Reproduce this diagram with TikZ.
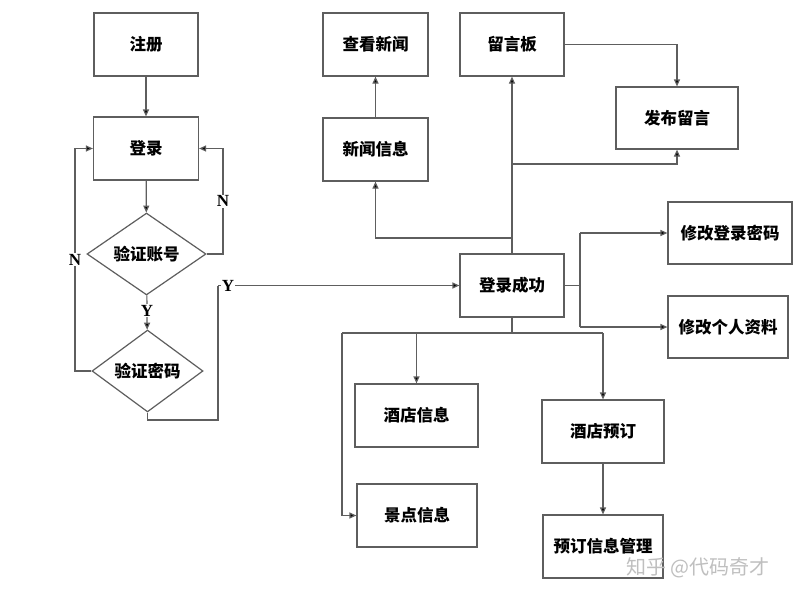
\documentclass[tikz,border=0pt]{standalone}
\usepackage{fontspec}
\newfontfamily\cjk{Noto Sans CJK SC}
\newfontfamily\latf{Liberation Serif}
\usetikzlibrary{shapes.geometric,arrows.meta}
\begin{document}
\begin{tikzpicture}[x=1pt,y=-1pt,
  box/.style={draw=linegray,line width=1.2pt,fill=white,inner sep=0pt,font=\cjk\bfseries\fontsize{16.5}{19}\selectfont},
  dia/.style={diamond,draw=linegray,line width=1.2pt,fill=white,inner sep=0pt,font=\cjk\bfseries\fontsize{16.5}{19}\selectfont},
  conn/.style={draw=linegray,line width=1.2pt},
  arr/.style={conn,-{Triangle[length=7pt,width=6pt,fill=black]}},
  lab/.style={fill=white,inner sep=1pt,font=\latf\bfseries\fontsize{17}{19}\selectfont}]
\definecolor{linegray}{HTML}{5E5E5E}
\useasboundingbox (0,0) rectangle (800,600);
\fill[white] (0,0) rectangle (800,600);
% nodes
\node[box,minimum width=104pt,minimum height=63pt] (zc) at (146,44.5) {注册};
\node[box,minimum width=105pt,minimum height=63pt] (dl) at (146,148.5) {登录};
\node[dia,minimum width=119pt,minimum height=62pt] (yzzh) at (146.5,254) {验证账号};
\node[dia,minimum width=111pt,minimum height=66pt] (yzmm) at (147.5,371) {验证密码};
\node[box,minimum width=105pt,minimum height=63pt] (cxxw) at (375.5,44.5) {查看新闻};
\node[box,minimum width=104pt,minimum height=63pt] (lyb) at (512,44.5) {留言板};
\node[box,minimum width=122pt,minimum height=62pt] (fbly) at (677,118) {发布留言};
\node[box,minimum width=105pt,minimum height=63pt] (xwxx) at (375.5,149.5) {新闻信息};
\node[box,minimum width=104pt,minimum height=63pt] (dlcg) at (512,285.5) {登录成功};
\node[box,minimum width=124pt,minimum height=62pt] (xgmm) at (730,233) {修改登录密码};
\node[box,minimum width=120pt,minimum height=62pt] (xgzl) at (728,327) {修改个人资料};
\node[box,minimum width=123pt,minimum height=63pt] (jdxx) at (416.5,415.5) {酒店信息};
\node[box,minimum width=120pt,minimum height=63pt] (jdxx2) at (417,515.5) {景点信息};
\node[box,minimum width=122pt,minimum height=63pt] (jdyd) at (603,431.5) {酒店预订};
\node[box,minimum width=120pt,minimum height=63pt] (ydgl) at (603,546.5) {预订信息管理};
% coordinates
\coordinate (nl) at (75,371);
\coordinate (nr) at (223,254);
\coordinate (yb) at (147.5,420);
\coordinate (yc) at (218,285.5);
\coordinate (b1) at (512,238);
\coordinate (b2) at (512,164);
\coordinate (r0) at (580,285.5);
\coordinate (r1) at (580,233);
\coordinate (r2) at (580,327);
\coordinate (d0) at (512,333);
\coordinate (dl0) at (342,333);
\coordinate (dr0) at (603,333);
\coordinate (dm0) at (416.5,333);
% connectors
\draw[arr] (zc) -- (dl);
\draw[arr] (dl) -- (yzzh);
\draw[arr] (yzzh) -- node[lab,pos=0.45] {Y} (yzmm);
\draw[arr] (yzmm.west) -- (nl) |- node[lab,pos=0.25] {N} (dl.west);
\draw[arr] (yzzh.east) -- (nr) |- node[lab,pos=0.25] {N} (dl.east);
\draw[conn] (yzmm.south) -- (yb) -| (yc);
\draw[arr] (yc) -- (dlcg.west);
\node[lab] (ylab) at (228,285.5) {Y};
\draw[arr] (dlcg.north) -- (lyb.south);
\draw[arr] (b1) -| (xwxx.south);
\draw[arr] (b2) -| (fbly.south);
\draw[arr] (xwxx.north) -- (cxxw.south);
\draw[arr] (lyb.east) -| (fbly.north);
\draw[conn] (dlcg.east) -- (r0);
\draw[conn] (r1) -- (r2);
\draw[arr] (r1) -- (xgmm.west);
\draw[arr] (r2) -- (xgzl.west);
\draw[conn] (dlcg.south) -- (d0);
\draw[conn] (dl0) -- (dr0);
\draw[arr] (dm0) -- (jdxx.north);
\draw[arr] (dr0) -- (jdyd.north);
\draw[arr] (dl0) |- (jdxx2.west);
\draw[arr] (jdyd.south) -- (ydgl.north);
% watermark
\node[font=\cjk\fontsize{20}{23}\selectfont,text=black!25,anchor=center] (wm) at (698,568) {知乎 @代码奇才};
\end{tikzpicture}
\end{document}
